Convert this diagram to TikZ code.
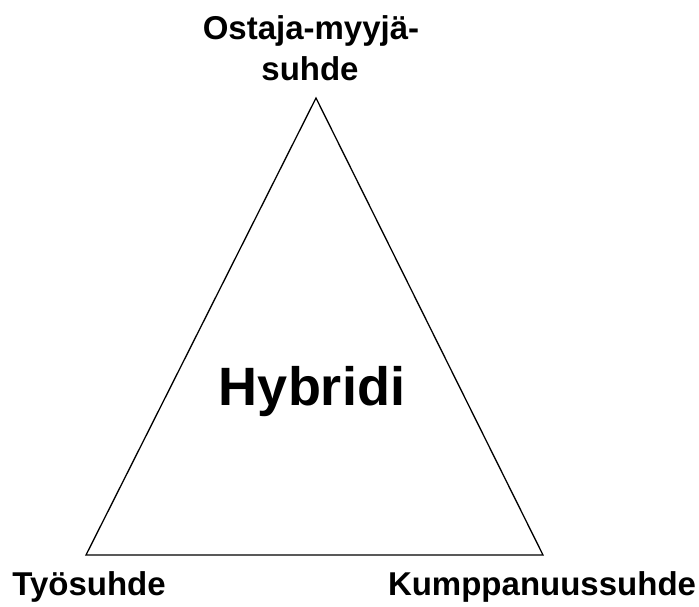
\documentclass[tikz,border=0pt]{standalone}
\usepackage{fontspec}
\setmainfont{Liberation Sans}
\begin{document}
\begin{tikzpicture}[x=1pt,y=-1pt,
  lbl/.style={font=\bfseries\fontsize{33}{41}\selectfont, anchor=base, inner sep=0pt, align=center},
  big/.style={font=\bfseries\fontsize{54}{60}\selectfont, anchor=base, inner sep=0pt},
  edge/.style={draw=black, line width=1.3pt, line join=miter}]
\useasboundingbox (0,0) rectangle (699,606);
\coordinate (top) at (316,98);
\coordinate (bl) at (86,555);
\coordinate (br) at (543,555);
\draw[edge] (top) -- (bl) -- (br) -- cycle;
\node[lbl] (t1) at (311,39) {Ostaja-myyjä-};
\node[lbl] (t2) at (310,80) {suhde};
\node[big] (h) at (312,405) {Hybridi};
\node[lbl] (l) at (89,595) {Työsuhde};
\node[lbl] (r) at (542,595) {Kumppanuussuhde};
\end{tikzpicture}
\end{document}
